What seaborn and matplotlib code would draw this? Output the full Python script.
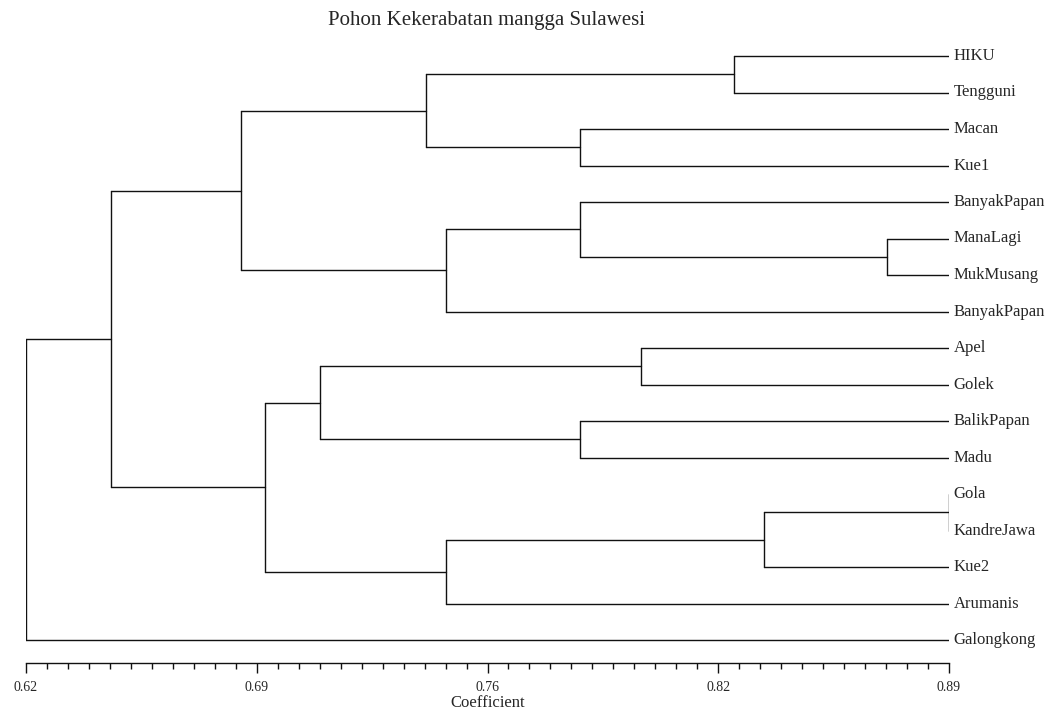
import numpy as np
import pandas as pd
import matplotlib
matplotlib.use("Agg")
import matplotlib.pyplot as plt
import seaborn as sns

# leaf order as drawn top -> bottom
leaves = ["HIKU", "Tengguni", "Macan", "Kue1", "BanyakPapan", "ManaLagi",
          "MukMusang", "BanyakPapan", "Apel", "Golek", "BalikPapan", "Madu",
          "Gola", "KandreJawa", "Kue2", "Arumanis", "Galongkong"]

# merges (like a linkage table): node ids continue after the leaves
merge_left = [0, 2, 17, 5, 4, 21, 19, 8, 10, 24, 12, 27, 28, 26, 23, 31]
merge_right = [1, 3, 18, 6, 20, 7, 22, 9, 11, 25, 13, 14, 15, 29, 30, 16]
merge_coef = [0.827, 0.782, 0.737, 0.872, 0.782, 0.743, 0.683, 0.800,
              0.782, 0.706, 0.890, 0.836, 0.743, 0.690, 0.645, 0.620]

axis_min, axis_max = 0.62, 0.89
major_labels = ["0.62", "0.69", "0.76", "0.82", "0.89"]

# node positions: leaves sit at the right edge of the scale
node_x = {i: axis_max for i in range(len(leaves))}
node_y = {i: float(i) for i in range(len(leaves))}

rows = []
seg = 0
for k, (a, b, h) in enumerate(zip(merge_left, merge_right, merge_coef)):
    nid = len(leaves) + k
    for c in (a, b):
        rows.append((seg, node_x[c], node_y[c]))
        rows.append((seg, h, node_y[c]))
        seg += 1
    rows.append((seg, h, node_y[a]))
    rows.append((seg, h, node_y[b]))
    seg += 1
    node_x[nid] = h
    node_y[nid] = (node_y[a] + node_y[b]) / 2

segs = pd.DataFrame(rows, columns=["seg", "x", "y"])

sns.set_style("white")
plt.rcParams["font.family"] = ["Liberation Serif", "DejaVu Serif"]

W, H = 1056, 714
fig = plt.figure(figsize=(W / 100, H / 100), dpi=100)
ax = fig.add_axes([26 / W, 1 - 663 / H, (949 - 26) / W, (663 - 40) / H])

sns.lineplot(data=segs, x="x", y="y", units="seg", estimator=None, sort=False,
             color="#111111", linewidth=1.0, ax=ax, legend=False)

step = 36.5
ax.set_ylim((663 - 56) / step, -(56 - 40) / step)
ax.set_xlim(axis_min, axis_max)

for i, name in enumerate(leaves):
    ax.annotate(name, (axis_max, i), xytext=(3.5, 0), textcoords="offset points",
                va="center", ha="left", fontsize=12, annotation_clip=False)

for s in ["top", "right", "left"]:
    ax.spines[s].set_visible(False)
ax.spines["bottom"].set_color("#111111")
ax.spines["bottom"].set_linewidth(1.0)

ax.set_xticks(np.linspace(axis_min, axis_max, 5))
ax.set_xticklabels(major_labels, fontsize=10)
ax.set_xticks(np.linspace(axis_min, axis_max, 45), minor=True)
ax.tick_params(axis="x", which="major", direction="out", length=7.5, width=1.0,
               color="#111111", pad=5.5, bottom=True)
ax.tick_params(axis="x", which="minor", direction="out", length=4, width=1.0,
               color="#111111", bottom=True)
ax.set_yticks([])
ax.set_ylabel("")
ax.set_xlabel("Coefficient", fontsize=12, labelpad=1)

fig.text(486 / W, 1 - 21 / H, "Pohon Kekerabatan mangga Sulawesi",
         ha="center", va="center", fontsize=15)

fig.savefig("out.png", dpi=100)
